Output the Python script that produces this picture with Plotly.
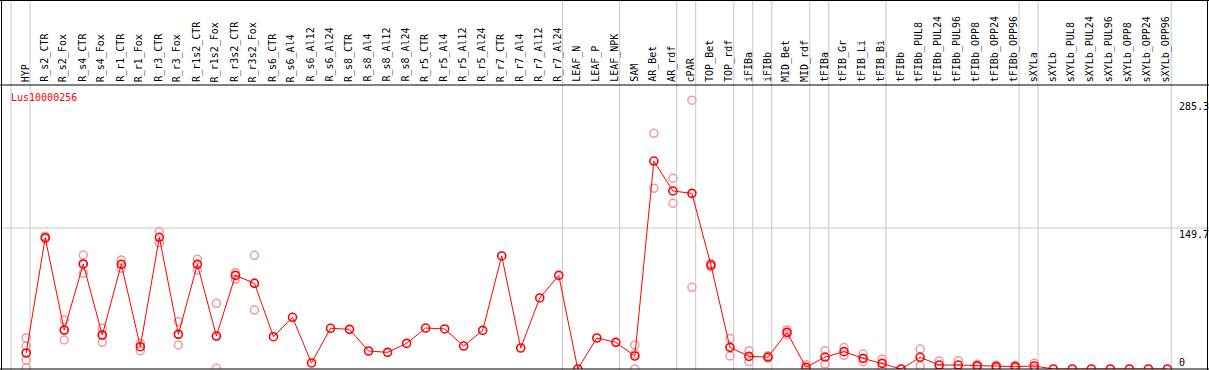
import plotly.graph_objects as go

categories = ["HYP", "R_s2_CTR", "R_s2_Fox", "R_s4_CTR", "R_s4_Fox", "R_r1_CTR", "R_r1_Fox",
              "R_r3_CTR", "R_r3_Fox", "R_r1s2_CTR", "R_r1s2_Fox", "R_r3s2_CTR", "R_r3s2_Fox",
              "R_s6_CTR", "R_s6_Al4", "R_s6_Al12", "R_s6_Al24", "R_s8_CTR", "R_s8_Al4",
              "R_s8_Al12", "R_s8_Al24", "R_r5_CTR", "R_r5_Al4", "R_r5_Al12", "R_r5_Al24",
              "R_r7_CTR", "R_r7_Al4", "R_r7_Al12", "R_r7_Al24", "LEAF_N", "LEAF_P", "LEAF_NPK",
              "SAM", "AR_Bet", "AR_rdf", "cPAR", "TOP_Bet", "TOP_rdf", "iFIBa", "iFIBb",
              "MID_Bet", "MID_rdf", "tFIBa", "tFIB_Gr", "tFIB_Li", "tFIB_Bi", "tFIBb",
              "tFIBb_PUL8", "tFIBb_PUL24", "tFIBb_PUL96", "tFIBb_OPP8", "tFIBb_OPP24",
              "tFIBb_OPP96", "sXYLa", "sXYLb", "sXYLb_PUL8", "sXYLb_PUL24", "sXYLb_PUL96",
              "sXYLb_OPP8", "sXYLb_OPP24", "sXYLb_OPP96"]

mean_values = [17, 139.4, 41.4, 111.5, 36.1, 111.1, 23.7, 139.8, 36.8, 111.1, 35, 99.4, 91,
               34.3, 54.9, 6.4, 43.2, 42.1, 19.1, 17.7, 27.2, 43.5, 42.5, 24.4, 41, 120, 22.3,
               75.4, 99.4, 0, 32.9, 28.3, 13.8, 220.8, 189, 186.5, 110.4, 23, 13.4, 12.7,
               38.9, 1.8, 12.7, 18.4, 11.3, 6, 0, 12.4, 4.2, 4.2, 3.5, 2.5, 2.5, 3.2, 0,
               0, 0, 0, 0, 0, 0]

replicate_values = [
    [33, 24.4, 9.6, 1], [141, 138], [52, 30.8, 41.4], [121, 101.6, 111.5], [43.2, 28.3, 36.1],
    [115.7, 106.9], [27.2, 19.5], [145.8, 134], [50.2, 25.5, 36.8], [116.4, 105.1],
    [69.7, 0.7, 35], [102.2, 95.2], [120.7, 62.6, 91],
    [], [], [], [], [], [], [], [], [], [], [], [], [], [], [], [],
    [], [], [],
    [25.5, 16, 0], [250.2, 191.8], [202.5, 175.9], [285.3, 86.7], [112, 108.5],
    [32.5, 13.8], [19.5, 7.8], [14, 11.5], [41.5, 36.5], [4.5, 0], [19.5, 5.5],
    [22.7, 14.5], [15.9, 7.8], [10.3, 2], [],
    [21.2, 3.5], [8.6, 0], [8.8, 0], [5, 2], [4, 1], [4, 1], [6, 0.5],
    [], [], [], [], [], [], []]

gene_name = "Lus10000256"
axis_labels = ["285.3", "149.7", "0"]
axis_label_values = [285.3, 149.7, 0]
group_edges = [-0.8, 0.2, 28.2, 31.2, 34.2, 35.2, 37.2, 38.2, 39.2, 41.2, 42.2, 45.2,
               52.2, 53.2, 60.2]

W, H = 1209, 370
STEP = 19.02
X0 = 26.2
xr = [-X0 / STEP, (W - X0) / STEP]
top_px, bot_px = 85, 369
ymax = 301.5
ydom = [(H - bot_px) / H, (H - top_px) / H]

idx = list(range(len(categories)))
rx, ry = [], []
for i, reps in enumerate(replicate_values):
    for v in reps:
        rx.append(i)
        ry.append(v)

fig = go.Figure()
fig.add_trace(go.Scatter(x=rx, y=ry, mode="markers",
                         marker=dict(symbol="circle-open", size=8, color="#f09a9a",
                                     line=dict(width=1.5, color="#f09a9a")),
                         hoverinfo="skip", showlegend=False))
fig.add_trace(go.Scatter(x=idx, y=mean_values, mode="lines+markers",
                         line=dict(color="#ff0000", width=1),
                         marker=dict(symbol="circle-open", size=8, color="#ff0000",
                                     line=dict(width=1.6, color="#ff0000")),
                         text=categories, showlegend=False))

shapes = []
for e in group_edges:
    shapes.append(dict(type="line", xref="x", yref="paper", x0=e, x1=e, y0=0, y1=1,
                       line=dict(color="#c8c8c8", width=1), layer="below"))
shapes.append(dict(type="line", xref="paper", yref="y", x0=0, x1=1, y0=149.7, y1=149.7,
                   line=dict(color="#c8c8c8", width=1), layer="below"))
# frame lines
blk = dict(color="black", width=1)
shapes.append(dict(type="line", xref="paper", yref="paper", x0=0, x1=1,
                   y0=ydom[1], y1=ydom[1], line=blk))
shapes.append(dict(type="line", xref="paper", yref="paper", x0=0, x1=1,
                   y0=ydom[0], y1=ydom[0], line=blk))
shapes.append(dict(type="line", xref="paper", yref="paper", x0=0, x1=1,
                   y0=1 - 0.5 / H, y1=1 - 0.5 / H, line=blk))
shapes.append(dict(type="line", xref="paper", yref="paper", x0=1.5 / W, x1=1.5 / W,
                   y0=0, y1=1, line=blk))
shapes.append(dict(type="line", xref="paper", yref="paper", x0=1207.5 / W, x1=1207.5 / W,
                   y0=0, y1=1, line=blk))

mono = "DejaVu Sans Mono"
annotations = []
for i, c in enumerate(categories):
    annotations.append(dict(x=i, y=ydom[1], xref="x", yref="paper", text=c, showarrow=False,
                            textangle=-90, xanchor="center", yanchor="bottom",
                            xshift=-1, yshift=1,
                            font=dict(family=mono, size=10, color="black")))
for lab, v in zip(axis_labels, axis_label_values):
    annotations.append(dict(x=1177 / W, y=v, xref="paper", yref="y", text=lab,
                            showarrow=False, xanchor="left",
                            yanchor="bottom" if v == 0 else "top",
                            yshift=-1 if v == 0 else 1,
                            font=dict(family=mono, size=10, color="black")))
annotations.append(dict(x=9 / W, y=(H - 97) / H, xref="paper", yref="paper", text=gene_name,
                        showarrow=False, xanchor="left", yanchor="middle",
                        font=dict(family=mono, size=10, color="#ff0000")))

fig.update_layout(
    width=W, height=H, margin=dict(l=0, r=0, t=0, b=0),
    paper_bgcolor="white", plot_bgcolor="white",
    xaxis=dict(range=xr, domain=[0, 1], showgrid=False, zeroline=False,
               showticklabels=False, ticks="", showline=False),
    yaxis=dict(range=[0, ymax], domain=ydom, showgrid=False, zeroline=False,
               showticklabels=False, ticks="", showline=False),
    shapes=shapes, annotations=annotations,
)

fig.write_html("out.html", config={"displayModeBar": False},
               post_script="document.body.style.margin='0px';")
